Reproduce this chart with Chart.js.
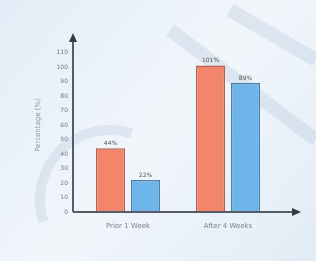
<!DOCTYPE html>
<html><head><meta charset="utf-8">
<script src="https://cdn.jsdelivr.net/npm/chart.js@4/dist/chart.umd.min.js"></script>
<style>html,body{margin:0;padding:0;background:#eaf2f9;}#c{display:block;}</style>
</head><body>
<canvas id="c" width="316" height="261"></canvas>
<script>
const categories = ["Prior 1 Week", "After 4 Weeks"];
const seriesA = [44, 101];
const seriesB = [22, 89];
const valueLabelsA = ["44%", "101%"];
const valueLabelsB = ["22%", "89%"];
const yTitle = "Percentage (%)";

const bgPlugin = {
  id: 'bg',
  beforeDraw(chart) {
    const {ctx, width, height} = chart;
    ctx.save();
    const g = ctx.createLinearGradient(0, 0, width, height);
    g.addColorStop(0, '#e3edf7');
    g.addColorStop(0.5, '#f1f6fb');
    g.addColorStop(1, '#e2ecf6');
    ctx.fillStyle = g;
    ctx.fillRect(0, 0, width, height);
    ctx.strokeStyle = 'rgba(185,200,222,0.35)';
    ctx.lineWidth = 14;
    ctx.beginPath(); ctx.moveTo(170, 30); ctx.lineTo(316, 140); ctx.stroke();
    ctx.beginPath(); ctx.moveTo(230, 10); ctx.lineTo(316, 60); ctx.stroke();
    ctx.lineWidth = 10;
    ctx.beginPath(); ctx.arc(110, 200, 70, Math.PI * 0.9, Math.PI * 1.6); ctx.stroke();
    ctx.restore();
  }
};

const decoPlugin = {
  id: 'deco',
  afterDraw(chart) {
    const {ctx, chartArea} = chart;
    const x0 = 73, y0 = chartArea.bottom;
    ctx.save();
    ctx.strokeStyle = '#555c66';
    ctx.fillStyle = '#333a44';
    ctx.lineWidth = 2;
    ctx.beginPath(); ctx.moveTo(x0, y0); ctx.lineTo(x0, chartArea.top - 2); ctx.stroke();
    ctx.beginPath(); ctx.moveTo(x0 - 4, chartArea.top + 4); ctx.lineTo(x0, chartArea.top - 5); ctx.lineTo(x0 + 4, chartArea.top + 4); ctx.closePath(); ctx.fill();
    ctx.beginPath(); ctx.moveTo(x0, y0); ctx.lineTo(296, y0); ctx.stroke();
    ctx.beginPath(); ctx.moveTo(292, y0 - 4); ctx.lineTo(301, y0); ctx.lineTo(292, y0 + 4); ctx.closePath(); ctx.fill();
    ctx.font = '6px "DejaVu Sans"';
    ctx.textAlign = 'center';
    ctx.textBaseline = 'bottom';
    ctx.fillStyle = '#555';
    const labs = [valueLabelsA, valueLabelsB];
    chart.data.datasets.forEach((ds, di) => {
      chart.getDatasetMeta(di).data.forEach((bar, i) => {
        ctx.fillText(labs[di][i], bar.x, bar.y - 2);
      });
    });
    ctx.restore();
  }
};

new Chart(document.getElementById('c'), {
  type: 'bar',
  data: {
    labels: categories,
    datasets: [
      { data: seriesA, backgroundColor: '#f3866a', borderColor: '#b8614e', borderWidth: 1.5, categoryPercentage: 0.7, barPercentage: 0.83 },
      { data: seriesB, backgroundColor: '#6db5ea', borderColor: '#4a80b0', borderWidth: 1.5, categoryPercentage: 0.7, barPercentage: 0.83 }
    ]
  },
  options: {
    responsive: false,
    animation: false,
    events: [],
    layout: { padding: { left: 0, right: 38, top: 38, bottom: 0 } },
    plugins: { legend: { display: false }, tooltip: { enabled: false } },
    scales: {
      x: {
        grid: { display: false, drawTicks: false },
        border: { display: false },
        ticks: { color: '#7d838b', font: { size: 7, family: 'DejaVu Sans' }, padding: 10 },
        afterFit(s) { s.height = 49; }
      },
      y: {
        min: 0, max: 120,
        grid: { display: false, drawTicks: false },
        border: { display: false },
        ticks: { stepSize: 10, color: '#6f757d', font: { size: 6, family: 'DejaVu Sans' }, padding: 10,
          callback: (v) => v >= 120 ? '' : v },
        title: { display: true, text: yTitle, color: '#8f959c', font: { size: 7, family: 'DejaVu Sans' }, padding: { top: 34, bottom: 0 } },
        afterFit(s) { s.width = 78; }
      }
    }
  },
  plugins: [bgPlugin, decoPlugin]
});
</script>
</body></html>
